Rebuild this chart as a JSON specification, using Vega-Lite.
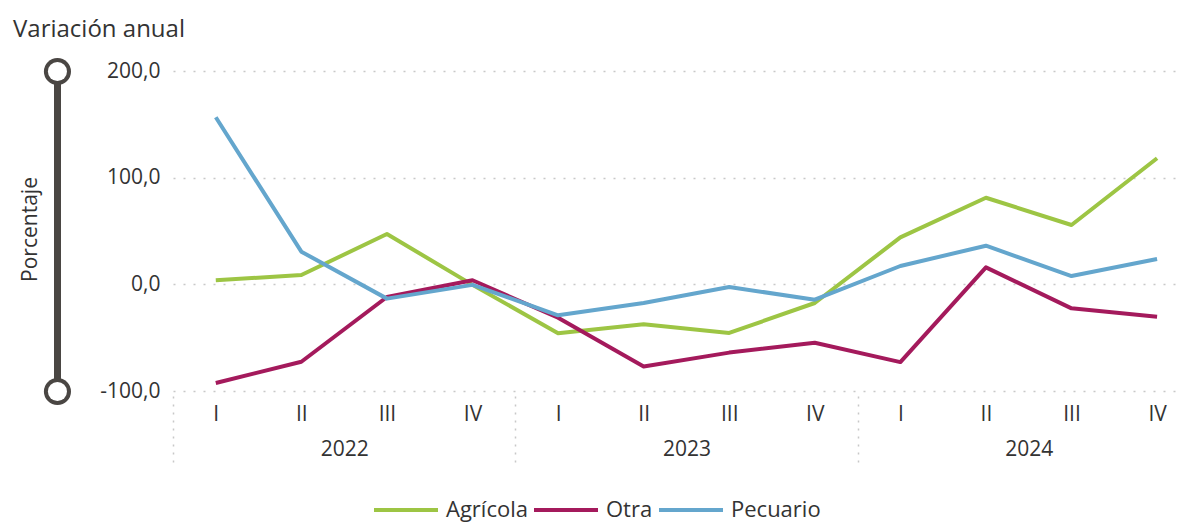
{
  "$schema": "https://vega.github.io/schema/vega-lite/v6.json",
  "width": 1010,
  "height": 320,
  "autosize": {"type": "none"},
  "padding": {"left": 173, "top": 71, "right": 0, "bottom": 132},
  "background": "white",
  "config": {
    "font": "Open Sans",
    "view": {"stroke": null}
  },
  "title": {
    "text": "Variación anual",
    "anchor": "start",
    "frame": "group",
    "dx": -160,
    "dy": 25,
    "offset": 22,
    "baseline": "alphabetic",
    "fontSize": 24,
    "fontWeight": "normal",
    "color": "#333333"
  },
  "data": {
    "values": [
      {"t": 0, "serie": "Agrícola", "v": 3.8},
      {"t": 1, "serie": "Agrícola", "v": 8.7},
      {"t": 2, "serie": "Agrícola", "v": 47.2},
      {"t": 3, "serie": "Agrícola", "v": -0.5},
      {"t": 4, "serie": "Agrícola", "v": -45.8},
      {"t": 5, "serie": "Agrícola", "v": -37.5},
      {"t": 6, "serie": "Agrícola", "v": -45.6},
      {"t": 7, "serie": "Agrícola", "v": -17.5},
      {"t": 8, "serie": "Agrícola", "v": 44.0},
      {"t": 9, "serie": "Agrícola", "v": 81.2},
      {"t": 10, "serie": "Agrícola", "v": 55.6},
      {"t": 11, "serie": "Agrícola", "v": 118.2},
      {"t": 0, "serie": "Otra", "v": -92.5},
      {"t": 1, "serie": "Otra", "v": -72.6},
      {"t": 2, "serie": "Otra", "v": -11.9},
      {"t": 3, "serie": "Otra", "v": 3.8},
      {"t": 4, "serie": "Otra", "v": -31.3},
      {"t": 5, "serie": "Otra", "v": -77.0},
      {"t": 6, "serie": "Otra", "v": -64.0},
      {"t": 7, "serie": "Otra", "v": -54.7},
      {"t": 8, "serie": "Otra", "v": -72.9},
      {"t": 9, "serie": "Otra", "v": 15.9},
      {"t": 10, "serie": "Otra", "v": -22.5},
      {"t": 11, "serie": "Otra", "v": -30.4},
      {"t": 0, "serie": "Pecuario", "v": 156.6},
      {"t": 1, "serie": "Pecuario", "v": 30.6},
      {"t": 2, "serie": "Pecuario", "v": -13.4},
      {"t": 3, "serie": "Pecuario", "v": -0.5},
      {"t": 4, "serie": "Pecuario", "v": -29.0},
      {"t": 5, "serie": "Pecuario", "v": -17.5},
      {"t": 6, "serie": "Pecuario", "v": -2.5},
      {"t": 7, "serie": "Pecuario", "v": -14.4},
      {"t": 8, "serie": "Pecuario", "v": 17.2},
      {"t": 9, "serie": "Pecuario", "v": 36.2},
      {"t": 10, "serie": "Pecuario", "v": 7.8},
      {"t": 11, "serie": "Pecuario", "v": 23.7}
    ]
  },
  "layer": [
    {
      "mark": {"type": "line", "strokeWidth": 4, "strokeJoin": "round"},
      "encoding": {
        "x": {
          "field": "t",
          "type": "quantitative",
          "scale": {"domain": [-0.5, 11.303], "nice": false, "zero": false},
          "axis": {
            "orient": "bottom",
            "offset": 5,
            "values": [-0.5, 0, 1, 1.5, 2, 3, 3.5, 4, 5, 5.5, 6, 7, 7.5, 8, 9, 9.5, 10, 11],
            "labelExpr": "datum.value == floor(datum.value) ? ['I','II','III','IV'][datum.value % 4] : ((datum.value % 4) == 1.5 ? ['', '' + (2022 + floor(datum.value / 4))] : '')",
            "domain": false,
            "grid": false,
            "ticks": true,
            "tickSize": 72,
            "tickDash": [2, 6],
            "tickColor": "#c8c8c8",
            "tickWidth": 1.5,
            "tickOpacity": {"condition": {"test": "datum.value == -0.5 || datum.value == 3.5 || datum.value == 7.5", "value": 1}, "value": 0},
            "labelPadding": -65,
            "labelBaseline": "top",
            "labelLineHeight": 35,
            "labelFontSize": 21,
            "labelColor": "#333333",
            "labelOverlap": false,
            "labelFlush": false,
            "labelBound": false,
            "title": null
          }
        },
        "y": {
          "field": "v",
          "type": "quantitative",
          "scale": {"domain": [-100, 200], "nice": false, "zero": false},
          "axis": {
            "orient": "left",
            "offset": 116,
            "values": [-100, 0, 100, 200],
            "labelExpr": "(datum.value < 0 ? '-' : '') + replace(format(abs(datum.value), '.1f'), '.', ',')",
            "domain": true,
            "domainColor": "#4a4643",
            "domainWidth": 7,
            "domainCap": "butt",
            "ticks": true,
            "tickCap": "round",
            "tickWidth": 27,
            "tickSize": 0.1,
            "tickColor": "#4a4643",
            "tickOpacity": {"condition": {"test": "datum.value == -100 || datum.value == 200", "value": 1}, "value": 0},
            "labelPadding": -103,
            "labelAlign": "right",
            "labelBaseline": "middle",
            "labelFontSize": 21,
            "labelColor": "#333333",
            "grid": true,
            "gridDash": [2, 8],
            "gridColor": "#c8c8c8",
            "gridWidth": 1.5,
            "title": "Porcentaje",
            "titleX": -27,
            "titleY": 158,
            "titleAngle": -90,
            "titleAlign": "center",
            "titleBaseline": "middle",
            "titleFontSize": 21,
            "titleFontWeight": "normal",
            "titleColor": "#333333"
          }
        },
        "color": {
          "field": "serie",
          "type": "nominal",
          "scale": {"domain": ["Agrícola", "Otra", "Pecuario"], "range": ["#9dc544", "#a41a5c", "#64a6cd"]},
          "legend": {
            "orient": "none",
            "legendX": 199,
            "legendY": 405,
            "direction": "horizontal",
            "title": null,
            "symbolType": "stroke",
            "symbolSize": 4096,
            "symbolStrokeWidth": 4,
            "labelFontSize": 22,
            "labelColor": "#333333",
            "columnPadding": -2,
            "labelOffset": 6
          }
        }
      }
    },
    {
      "mark": {"type": "line", "opacity": 0},
      "encoding": {
        "y": {
          "field": "v",
          "type": "quantitative",
          "axis": {
            "orient": "left",
            "offset": 116,
            "values": [-100, 200],
            "domain": false,
            "grid": false,
            "labels": false,
            "ticks": true,
            "tickCap": "round",
            "tickWidth": 19,
            "tickSize": 0.1,
            "tickColor": "#ffffff",
            "title": null,
            "zindex": 1
          }
        }
      }
    }
  ],
  "resolve": {"axis": {"y": "independent"}}
}
